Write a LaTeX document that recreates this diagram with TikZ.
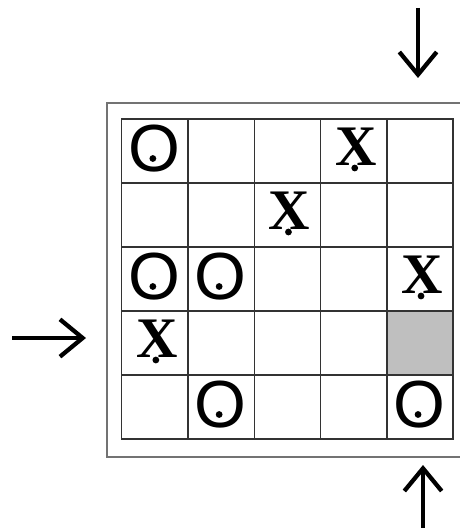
\documentclass[tikz,border=0pt]{standalone}
\usepackage{fontspec}
\newfontfamily\ofont{Liberation Sans}
\newfontfamily\xfont{Liberation Serif}
\usetikzlibrary{arrows.meta}

\begin{document}
\begin{tikzpicture}[
  x=0.75pt, y=-0.75pt,
  cell/.style={draw=black!80, line width=1.1pt, minimum width=49.7pt, minimum height=48pt,
               inner sep=0pt, outer sep=0pt},
  omark/.style={inner sep=0pt, font=\ofont\fontsize{50}{50}\selectfont},
  xmark/.style={inner sep=0pt, font=\xfont\bfseries\fontsize{43}{43}\selectfont},
  arrow/.style={-{Straight Barb[length=17pt, width=28pt]}, line width=3.2pt},
]
  \useasboundingbox (0,0) rectangle (460,528);
  \clip (0,0) rectangle (460,528);

  % outer frame, runs off the right edge
  \draw[black!55, line width=1.5pt] (107,103) rectangle (475,457);

  % the 5x5 board
  \foreach \r in {1,...,5}
    \foreach \c in {1,...,5}
      \node[cell] (cell-\r-\c) at ({121.7+66.3*(\c-0.5)}, {119+64*(\r-0.5)}) {};
  \fill[black!25] (cell-4-5.north west) rectangle (cell-4-5.south east);
  \draw[black!80, line width=1.1pt] (cell-4-5.north west) rectangle (cell-4-5.south east);

  % O marks
  \foreach \r/\c in {1/1, 3/1, 3/2, 5/2, 5/5} {
    \node[omark] (o-\r-\c) at ([shift={(-0.5,-2)}]cell-\r-\c.center) {O};
    \fill ([shift={(-1.5,9.5)}]o-\r-\c.center) circle (3.4);
  }

  % X marks
  \foreach \r/\c in {1/4, 2/3, 3/5, 4/1} {
    \node[xmark] (x-\r-\c) at ([shift={(2,-4)}]cell-\r-\c.center) {X};
    \fill ([shift={(-1,21)}]x-\r-\c.center) circle (3.4);
  }

  % entry arrows
  \coordinate (top-tail) at (418,8);
  \coordinate (top-tip) at (418,78);
  \coordinate (left-tail) at (12,338);
  \coordinate (left-tip) at (86,338);
  \coordinate (bot-tail) at (423,530);
  \coordinate (bot-tip) at (423,465);
  \draw[arrow] (top-tail) -- (top-tip);
  \draw[arrow] (left-tail) -- (left-tip);
  \draw[arrow] (bot-tail) -- (bot-tip);
\end{tikzpicture}
\end{document}
